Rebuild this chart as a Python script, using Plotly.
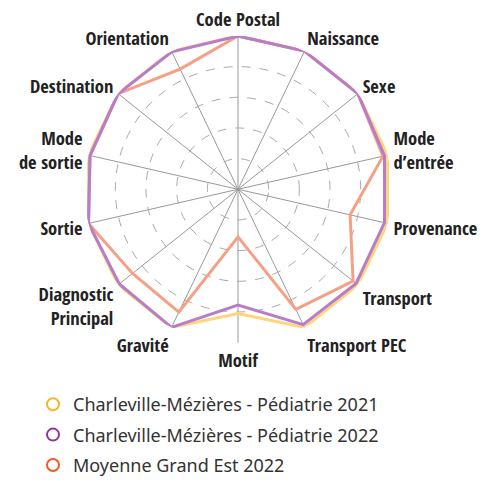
import plotly.graph_objects as go

categories = ["Code Postal", "Naissance", "Sexe", "Mode<br>d’entrée", "Provenance",
              "Transport", "Transport PEC", "Motif", "Gravité", "Diagnostic<br>Principal",
              "Sortie", "Mode<br>de sortie", "Destination", "Orientation"]

cm_2021 = [100, 100, 100, 100, 100, 100, 100, 81, 100, 100, 100, 100, 100, 100]
cm_2022 = [100, 100, 100, 98, 98, 98.5, 98, 75.5, 100, 99, 100, 99, 100, 99.5]
moy_ge_2022 = [100, 100, 100, 97, 75, 96, 87, 31, 89, 88, 100, 99, 100, 87]

names = ["Charleville-Mézières - Pédiatrie 2021",
         "Charleville-Mézières - Pédiatrie 2022",
         "Moyenne Grand Est 2022"]
line_colors = ["#FDD57A", "#B87CC8", "#F5A085"]
legend_colors = ["#FBB42A", "#8E35A0", "#F05A28"]

fig = go.Figure()

# lines (closed polygons), drawn yellow -> orange -> purple so purple ends on top
series = [cm_2021, moy_ge_2022, cm_2022]
order = [0, 2, 1]
for vals, k in zip(series, order):
    fig.add_trace(go.Scatterpolar(
        r=vals + vals[:1], theta=categories + categories[:1],
        mode="lines", line=dict(color=line_colors[k], width=3),
        showlegend=False, hoverinfo="skip"))

# legend entries with open circles
for k in range(3):
    fig.add_trace(go.Scatterpolar(
        r=[None], theta=[categories[0]], mode="markers", name=names[k],
        legendgroup="g%d" % k,
        marker=dict(symbol="circle-open", size=16, color=legend_colors[k],
                    line=dict(width=2.5, color=legend_colors[k]))))

# page body adds 8px margin, so figure is 8px smaller than the window
W, H = 481, 476
cx, cy, R = 230, 188, 159

fig.update_layout(
    width=W, height=H,
    margin=dict(l=0, r=0, t=0, b=0),
    paper_bgcolor="white", plot_bgcolor="white",
    polar=dict(
        domain=dict(x=[(cx - R) / W, (cx + R) / W], y=[1 - (cy + R) / H, 1 - (cy - R) / H]),
        bgcolor="white",
        radialaxis=dict(range=[0, 100], dtick=20, showticklabels=False, ticks="",
                        showline=False, gridcolor="#AAAAAA", griddash="dash",
                        gridwidth=1),
        angularaxis=dict(direction="clockwise", rotation=90, showline=False,
                         gridcolor="#999999", gridwidth=1,
                         ticks="outside", ticklen=2, tickcolor="rgba(0,0,0,0)",
                         tickfont=dict(family="Open Sans Condensed", size=18.5,
                                       color="#222222", weight=600)),
    ),
    legend=dict(x=25 / W, y=1 - 392 / H, xanchor="left", yanchor="top",
                font=dict(family="Noto Sans", size=18, color="#333333"),
                tracegroupgap=4, itemsizing="constant", bgcolor="rgba(0,0,0,0)"),
)

fig.write_html("out.html")
